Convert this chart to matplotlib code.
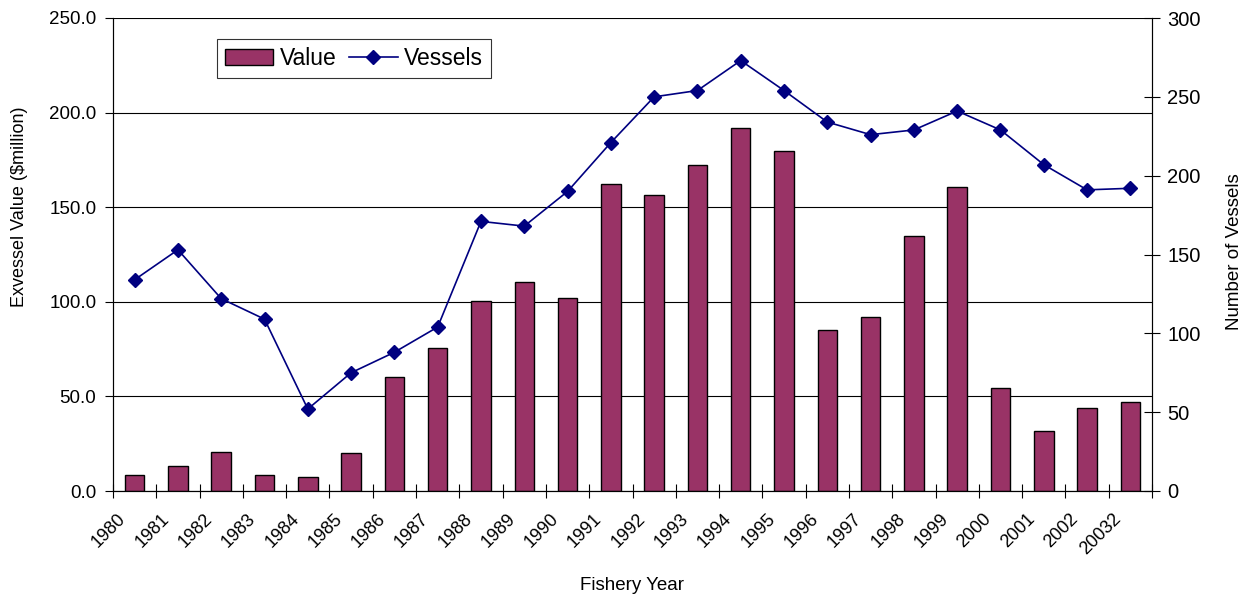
import matplotlib
matplotlib.use("Agg")
import matplotlib.pyplot as plt
import matplotlib.transforms as mtransforms
import numpy as np
from matplotlib.ticker import FixedLocator, FormatStrFormatter

plt.rcParams['font.family'] = ['Liberation Sans', 'DejaVu Sans']

years = ["1980", "1981", "1982", "1983", "1984", "1985", "1986", "1987", "1988", "1989",
         "1990", "1991", "1992", "1993", "1994", "1995", "1996", "1997", "1998", "1999",
         "2000", "2001", "2002", "20032"]
value = [8.5, 13.2, 20.6, 8.5, 7.4, 20.0, 60.3, 75.6, 100.4, 110.5,
         102.0, 162.3, 156.4, 172.3, 191.9, 179.7, 85.1, 92.0, 134.8, 160.7,
         54.4, 31.7, 43.9, 47.0]
vessels = [134, 153, 122, 109, 52, 75, 88, 104, 171, 168,
           190, 221, 250, 254, 273, 254, 234, 226, 229, 241,
           229, 207, 191, 192]

fig = plt.figure(figsize=(12.53, 5.98), dpi=100)
ax = fig.add_axes([113/1253, 1-491/598, (1152-113)/1253, (491-18)/598])
x = np.arange(len(years))

ax.bar(x, value, width=0.45, color="#993366", edgecolor="black", linewidth=1.0,
       zorder=2, label="Value")
ax.set_xlim(-0.5, len(years)-0.5)
ax.set_ylim(0, 250)
ax.set_yticks(np.arange(0, 251, 50))
ax.yaxis.set_major_formatter(FormatStrFormatter('%.1f'))
ax.grid(axis='y', color='black', linewidth=0.8, zorder=0)
ax.set_axisbelow(True)
ax.tick_params(axis='y', direction='out', length=6, labelsize=13.5, width=0.8, pad=6)

ax.set_xticks(x)
ax.set_xticklabels(years, rotation=45, ha='right', va='top', rotation_mode='anchor', fontsize=13)
ax.tick_params(axis='x', which='major', length=0, pad=0)
ax.xaxis.set_minor_locator(FixedLocator(np.arange(-0.5, len(years), 1.0)))
ax.tick_params(axis='x', which='minor', direction='inout', length=9.5, width=0.8)
offset = mtransforms.ScaledTranslation(-0.175, -0.195, fig.dpi_scale_trans)
for lbl in ax.get_xticklabels():
    lbl.set_transform(lbl.get_transform() + offset)

ax.spines['top'].set_visible(False)
for s in ['left', 'bottom', 'right']:
    ax.spines[s].set_linewidth(0.8)
    ax.spines[s].set_color('#333333')

ax.set_ylabel("Exvessel Value ($million)", fontsize=13)
ax.yaxis.set_label_coords(-0.082, 0.60)
ax.set_xlabel("Fishery Year", fontsize=13.5)
ax.xaxis.set_label_coords(0.5, -0.182)

ax2 = ax.twinx()
ax2.plot(x, vessels, color="#000080", linewidth=1.2, marker='D', markersize=7.5,
         label="Vessels", zorder=3)
ax2.set_ylim(0, 300)
ax2.set_yticks(np.arange(0, 301, 50))
ax2.tick_params(axis='y', direction='inout', length=11, labelsize=14.5, width=0.8, pad=5.5)
ax2.spines['top'].set_visible(False)
ax2.spines['right'].set_linewidth(0.8)
ax2.set_ylabel("Number of Vessels", fontsize=13.5)
ax2.yaxis.set_label_coords(1.071, 0.507)

h1, l1 = ax.get_legend_handles_labels()
h2, l2 = ax2.get_legend_handles_labels()
leg = ax2.legend(h1 + h2, l1 + l2, ncol=2, loc='upper left',
                 bbox_to_anchor=((217-113)/1039, (491-39)/473),
                 fontsize=16.5, frameon=True, fancybox=False, edgecolor='black',
                 borderpad=0.35, handlelength=2.1, columnspacing=0.55, handletextpad=0.3,
                 borderaxespad=0)
leg.get_frame().set_linewidth(0.8)

fig.savefig("out.png", dpi=100)
